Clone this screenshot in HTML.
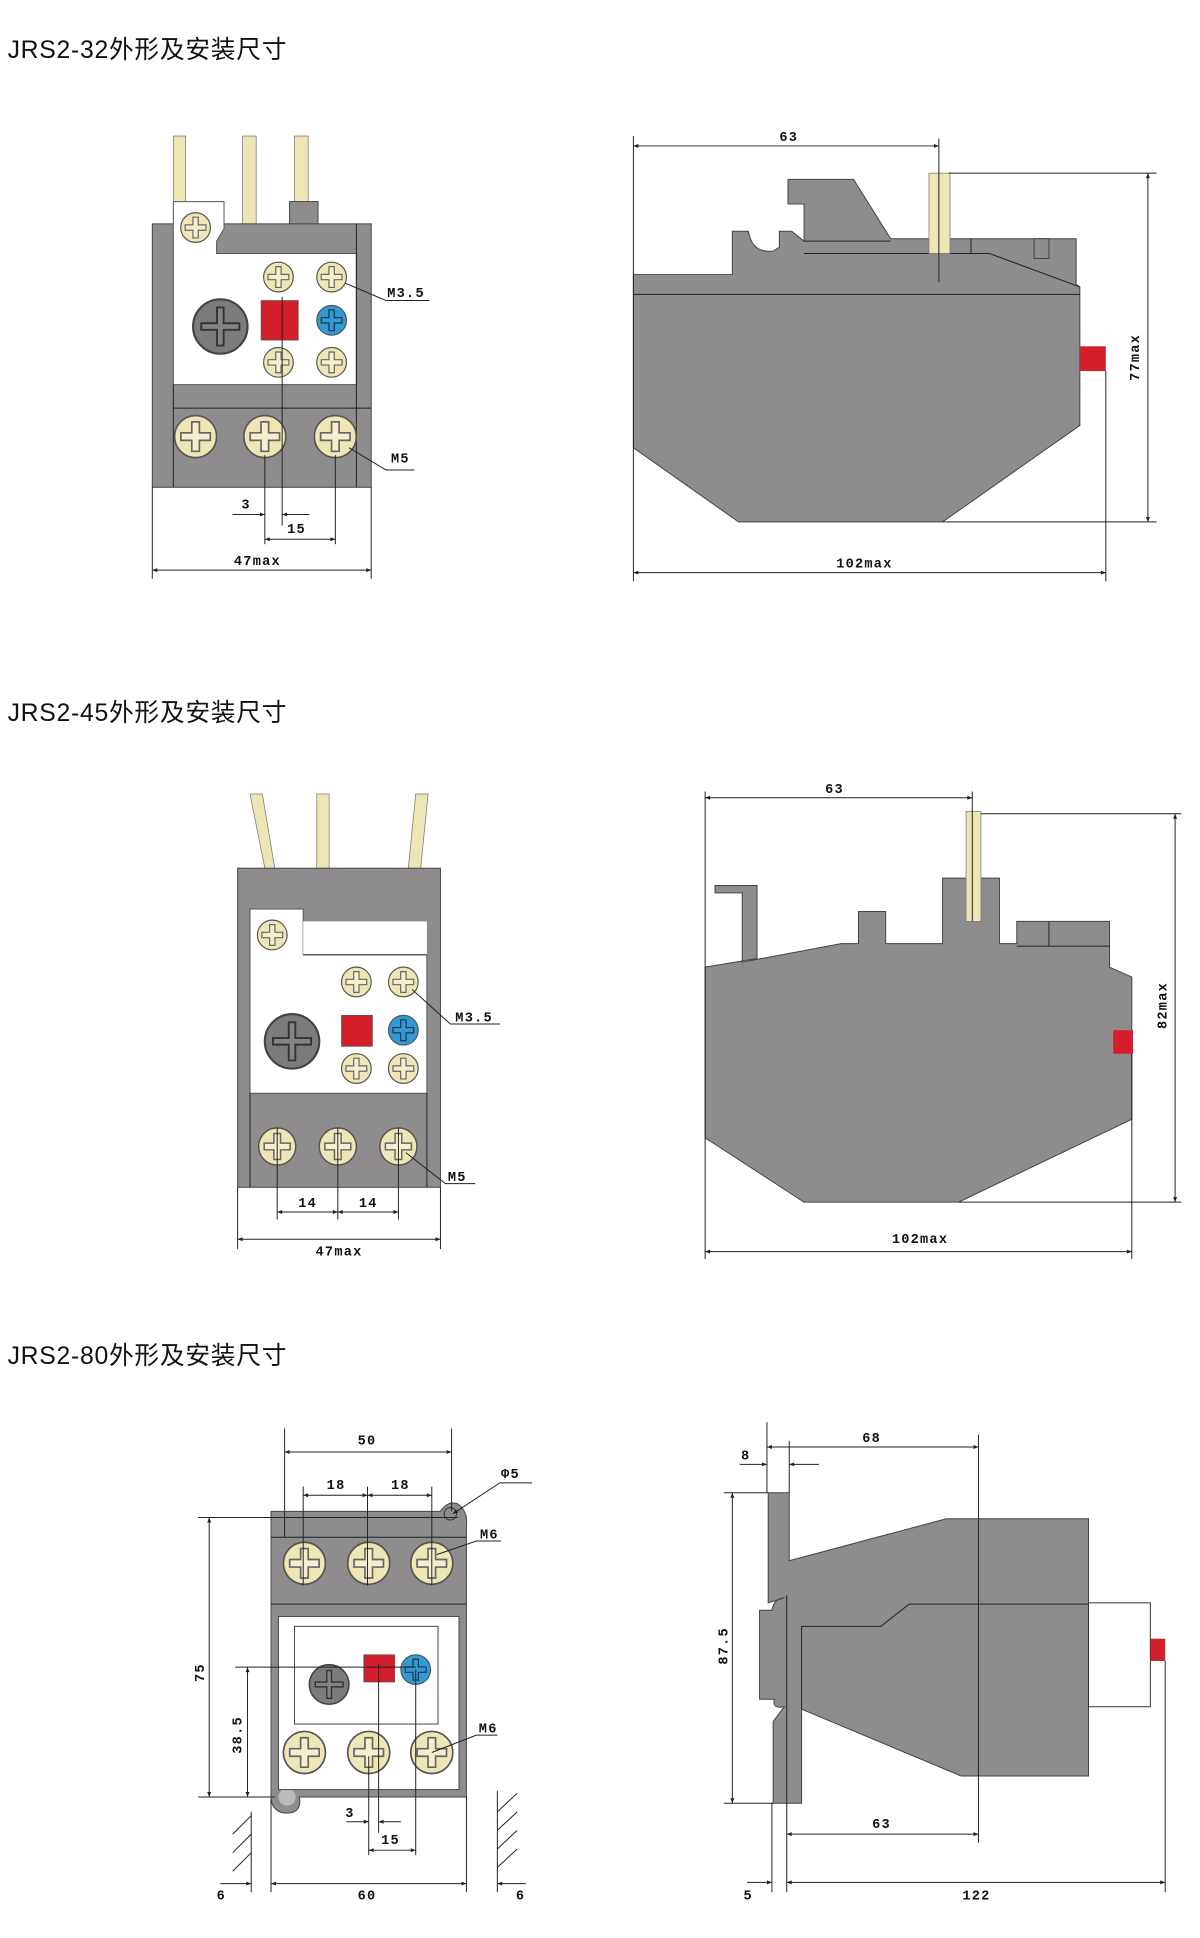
<!DOCTYPE html>
<html><head><meta charset="utf-8"><style>
html,body{margin:0;padding:0;background:#fff;}
svg{display:block;}
text{font-family:"Liberation Sans","Noto Sans CJK SC",sans-serif;}
.d{font-family:"Liberation Mono","DejaVu Sans Mono",monospace;font-size:11px;font-weight:bold;fill:#111;letter-spacing:1px;}
.t{font-size:20px;fill:#111;letter-spacing:0.6px;}
.l{stroke:#222;stroke-width:0.8;fill:none;}
.g{fill:#8e8c8d;stroke:#444;stroke-width:0.8;}
</style></head><body>
<svg width="1200" height="1938" viewBox="0 0 970 1567" xmlns="http://www.w3.org/2000/svg">
<defs>
<marker id="a" viewBox="0 0 10 10" refX="10" refY="5" markerWidth="7" markerHeight="5" orient="auto-start-reverse"><path d="M0,1 L10,5 L0,9 z" fill="#222"/></marker>
<g id="s"><circle r="10" fill="#efe6b5" stroke="#555" stroke-width="0.8"/><path d="M-1.8,-7 h3.6 v5.2 h5.2 v3.6 h-5.2 v5.2 h-3.6 v-5.2 h-5.2 v-3.6 h5.2 z" fill="#f6efcc" stroke="#666" stroke-width="0.8"/></g>
<g id="bs"><circle r="10" fill="#2e9ad6" stroke="#555" stroke-width="0.8"/><path d="M-1.8,-7 h3.6 v5.2 h5.2 v3.6 h-5.2 v5.2 h-3.6 v-5.2 h-5.2 v-3.6 h5.2 z" fill="#2e9ad6" stroke="#234" stroke-width="0.8"/></g>
<g id="ds"><circle r="10" fill="#7d7b7c" stroke="#444" stroke-width="0.8"/><path d="M-1.2,-7 h2.4 v5.8 h5.8 v2.4 h-5.8 v5.8 h-2.4 v-5.8 h-5.8 v-2.4 h5.8 z" fill="#858384" stroke="#333" stroke-width="0.7"/></g>
</defs>

<!-- Titles -->
<text class="t" x="6" y="47">JRS2-32外形及安装尺寸</text>
<text class="t" x="6" y="583">JRS2-45外形及安装尺寸</text>
<text class="t" x="6" y="1103">JRS2-80外形及安装尺寸</text>

<!-- ===== Section 1 front ===== -->
<rect x="140" y="110" width="10" height="56" fill="#efe6b5" stroke="#777" stroke-width="0.6"/>
<rect x="196" y="110" width="11" height="72" fill="#efe6b5" stroke="#777" stroke-width="0.6"/>
<rect x="238" y="110" width="11" height="55" fill="#efe6b5" stroke="#777" stroke-width="0.6"/>
<rect x="234" y="163" width="23" height="19" class="g"/>
<rect x="123" y="181" width="177" height="213" class="g"/>
<path d="M140,163 L181,163 L181,185 L175,195 L175,205 L288,205 L288,311 L140,311 Z" fill="#fff" stroke="#555" stroke-width="0.8"/>
<line x1="140" y1="330" x2="300" y2="330" class="l"/>
<line x1="288" y1="181" x2="288" y2="394" class="l"/>
<line x1="140" y1="311" x2="140" y2="394" class="l"/>
<use href="#s" transform="translate(158,184) scale(1.2)"/>
<use href="#s" transform="translate(225,224) scale(1.2)"/>
<use href="#s" transform="translate(268,224) scale(1.2)"/>
<use href="#s" transform="translate(225,293) scale(1.2)"/>
<use href="#s" transform="translate(268,293) scale(1.2)"/>
<use href="#ds" transform="translate(178,264) scale(2.2)"/>
<rect x="211" y="243" width="30" height="32" fill="#d21f2b" stroke="#555" stroke-width="0.6"/>
<use href="#bs" transform="translate(268,259) scale(1.2)"/>
<use href="#s" transform="translate(158,353) scale(1.7)"/>
<use href="#s" transform="translate(214,353) scale(1.7)"/>
<use href="#s" transform="translate(271,353) scale(1.7)"/>
<line x1="214" y1="368" x2="214" y2="440" class="l"/>
<line x1="271" y1="368" x2="271" y2="440" class="l"/>
<line x1="228" y1="240" x2="228" y2="425" class="l"/>
<line x1="123" y1="394" x2="123" y2="468" class="l"/>
<line x1="300" y1="394" x2="300" y2="468" class="l"/>
<line x1="188" y1="416" x2="214" y2="416" class="l" marker-end="url(#a)"/>
<line x1="250" y1="416" x2="228" y2="416" class="l" marker-end="url(#a)"/>
<line x1="214" y1="436" x2="271" y2="436" class="l" marker-start="url(#a)" marker-end="url(#a)"/>
<line x1="123" y1="461" x2="300" y2="461" class="l" marker-start="url(#a)" marker-end="url(#a)"/>
<text class="d" x="195" y="411">3</text>
<text class="d" x="232" y="431">15</text>
<text class="d" x="189" y="457">47max</text>
<polyline points="279,229 312,243 347,243" class="l"/>
<text class="d" x="313" y="240">M3.5</text>
<polyline points="282,362 312,380 335,380" class="l"/>
<text class="d" x="316" y="374">M5</text>

<!-- ===== Section 1 side ===== -->
<path d="M512,222 L592,222 L592,187 L605,187 Q608,205 625,203 L630,200 L630,187 L640,187 L650,195 L650,165 L637,165 L637,145 L690,145 L720,193 L870,193 L870,230 L873,232 L873,344 L762,422 L597,422 L512,362 Z" class="g"/>
<line x1="512" y1="238" x2="873" y2="238" class="l"/>
<line x1="650" y1="195" x2="720" y2="195" class="l"/>
<line x1="650" y1="205" x2="800" y2="205" class="l"/>
<line x1="800" y1="205" x2="873" y2="232" class="l"/>
<line x1="785" y1="193" x2="785" y2="205" class="l"/>
<rect x="836" y="193" width="12" height="16" class="g"/>
<rect x="751" y="140" width="17" height="65" fill="#efe6b5" stroke="#777" stroke-width="0.6"/>
<rect x="873" y="280" width="21" height="20" fill="#d21f2b"/>
<line x1="512" y1="110" x2="512" y2="470" class="l"/>
<line x1="759" y1="112" x2="759" y2="228" class="l"/>
<line x1="512" y1="118" x2="759" y2="118" class="l" marker-start="url(#a)" marker-end="url(#a)"/>
<text class="d" x="630" y="114">63</text>
<line x1="767" y1="140" x2="935" y2="140" class="l"/>
<line x1="762" y1="422" x2="935" y2="422" class="l"/>
<line x1="928" y1="140" x2="928" y2="422" class="l" marker-start="url(#a)" marker-end="url(#a)"/>
<text class="d" transform="translate(921,308) rotate(-90)">77max</text>
<line x1="894" y1="300" x2="894" y2="470" class="l"/>
<line x1="512" y1="463" x2="894" y2="463" class="l" marker-start="url(#a)" marker-end="url(#a)"/>
<text class="d" x="676" y="459">102max</text>

<!-- ===== Section 2 front ===== -->
<path d="M202,642 L212,642 L222,702 L214,702 Z" fill="#efe6b5" stroke="#777" stroke-width="0.6"/>
<rect x="256" y="642" width="10" height="60" fill="#efe6b5" stroke="#777" stroke-width="0.6"/>
<path d="M336,642 L346,642 L340,702 L330,702 Z" fill="#efe6b5" stroke="#777" stroke-width="0.6"/>
<rect x="192" y="702" width="164" height="258" class="g"/>
<path d="M202,735 L245,735 L245,772 L345,772 L345,884 L202,884 Z" fill="#fff" stroke="#555" stroke-width="0.8"/>
<rect x="245" y="745" width="100" height="27" fill="#fff"/>
<line x1="245" y1="772" x2="345" y2="772" class="l"/>
<line x1="202" y1="960" x2="202" y2="884" class="l"/>
<line x1="345" y1="960" x2="345" y2="884" class="l"/>
<use href="#s" transform="translate(220,756) scale(1.2)"/>
<use href="#s" transform="translate(288,794) scale(1.2)"/>
<use href="#s" transform="translate(326,794) scale(1.2)"/>
<use href="#s" transform="translate(288,864) scale(1.2)"/>
<use href="#s" transform="translate(326,864) scale(1.2)"/>
<use href="#ds" transform="translate(236,842) scale(2.2)"/>
<rect x="276" y="821" width="25" height="25" fill="#d21f2b" stroke="#555" stroke-width="0.6"/>
<use href="#bs" transform="translate(326,833) scale(1.2)"/>
<use href="#s" transform="translate(224,927) scale(1.5)"/>
<use href="#s" transform="translate(273,927) scale(1.5)"/>
<use href="#s" transform="translate(322,927) scale(1.5)"/>
<line x1="224" y1="912" x2="224" y2="986" class="l"/>
<line x1="273" y1="912" x2="273" y2="986" class="l"/>
<line x1="322" y1="912" x2="322" y2="986" class="l"/>
<line x1="192" y1="960" x2="192" y2="1010" class="l"/>
<line x1="356" y1="960" x2="356" y2="1010" class="l"/>
<line x1="224" y1="980" x2="273" y2="980" class="l" marker-start="url(#a)" marker-end="url(#a)"/>
<line x1="273" y1="980" x2="322" y2="980" class="l" marker-start="url(#a)" marker-end="url(#a)"/>
<text class="d" x="241" y="976">14</text>
<text class="d" x="290" y="976">14</text>
<line x1="192" y1="1002" x2="356" y2="1002" class="l" marker-start="url(#a)" marker-end="url(#a)"/>
<text class="d" x="255" y="1015">47max</text>
<polyline points="333,800 364,828 404,828" class="l"/>
<text class="d" x="368" y="826">M3.5</text>
<polyline points="328,932 360,957 384,957" class="l"/>
<text class="d" x="362" y="955">M5</text>

<!-- ===== Section 2 side ===== -->
<path d="M570,782 L612,775 L612,716 L578,716 L578,722 L600,722 L600,778 L680,763 L694,763 L694,737 L716,737 L716,763 L762,763 L762,710 L808,710 L808,763 L822,763 L822,745 L897,745 L897,782 L915,790 L915,905 L775,972 L650,972 L570,920 Z" class="g"/>
<line x1="822" y1="765" x2="897" y2="765" class="l"/>
<line x1="848" y1="745" x2="848" y2="765" class="l"/>
<rect x="781" y="656" width="12" height="89" fill="#efe6b5" stroke="#777" stroke-width="0.6"/>
<line x1="786" y1="640" x2="786" y2="745" class="l"/>
<rect x="900" y="833" width="16" height="19" fill="#d21f2b"/>
<line x1="570" y1="640" x2="570" y2="1018" class="l"/>
<line x1="570" y1="645" x2="786" y2="645" class="l" marker-start="url(#a)" marker-end="url(#a)"/>
<text class="d" x="667" y="641">63</text>
<line x1="793" y1="658" x2="955" y2="658" class="l"/>
<line x1="775" y1="972" x2="955" y2="972" class="l"/>
<line x1="950" y1="658" x2="950" y2="972" class="l" marker-start="url(#a)" marker-end="url(#a)"/>
<text class="d" transform="translate(943,832) rotate(-90)">82max</text>
<line x1="915" y1="852" x2="915" y2="1018" class="l"/>
<line x1="570" y1="1012" x2="915" y2="1012" class="l" marker-start="url(#a)" marker-end="url(#a)"/>
<text class="d" x="721" y="1005">102max</text>

<!-- ===== Section 3 front ===== -->
<path d="M219,1222 L356,1222 Q362,1213 370,1216 Q378,1222 377,1232 L377,1453 L242,1453 Q244,1466 232,1466 Q221,1466 219,1455 Z" class="g"/>
<circle cx="364" cy="1224" r="5" fill="none" stroke="#333" stroke-width="0.8"/>
<circle cx="232" cy="1453" r="7" fill="#bbb"/>
<line x1="219" y1="1243" x2="377" y2="1243" class="l"/>
<line x1="219" y1="1297" x2="377" y2="1297" class="l"/>
<rect x="225" y="1307" width="146" height="140" fill="#fff" stroke="#444" stroke-width="0.8"/>
<rect x="238" y="1315" width="116" height="79" fill="#fff" stroke="#444" stroke-width="0.8"/>
<use href="#s" transform="translate(246,1264) scale(1.7)"/>
<use href="#s" transform="translate(298,1264) scale(1.7)"/>
<use href="#s" transform="translate(349,1264) scale(1.7)"/>
<use href="#ds" transform="translate(266,1362) scale(1.6)"/>
<rect x="294" y="1338" width="25" height="22" fill="#d21f2b" stroke="#555" stroke-width="0.6"/>
<use href="#bs" transform="translate(336,1350) scale(1.2)"/>
<use href="#s" transform="translate(246,1417) scale(1.7)"/>
<use href="#s" transform="translate(298,1417) scale(1.7)"/>
<use href="#s" transform="translate(349,1417) scale(1.7)"/>
<line x1="230" y1="1155" x2="230" y2="1243" class="l"/>
<line x1="365" y1="1155" x2="365" y2="1222" class="l"/>
<line x1="230" y1="1174" x2="365" y2="1174" class="l" marker-start="url(#a)" marker-end="url(#a)"/>
<text class="d" x="289" y="1168">50</text>
<line x1="245" y1="1202" x2="245" y2="1282" class="l"/>
<line x1="297" y1="1202" x2="297" y2="1282" class="l"/>
<line x1="349" y1="1202" x2="349" y2="1282" class="l"/>
<line x1="245" y1="1209" x2="297" y2="1209" class="l" marker-start="url(#a)" marker-end="url(#a)"/>
<line x1="297" y1="1209" x2="349" y2="1209" class="l" marker-start="url(#a)" marker-end="url(#a)"/>
<text class="d" x="264" y="1204">18</text>
<text class="d" x="316" y="1204">18</text>
<polyline points="430,1199 404,1199 366,1224" class="l" marker-end="url(#a)"/>
<text class="d" x="405" y="1195">Φ5</text>
<polyline points="353,1257 385,1246 405,1246" class="l"/>
<text class="d" x="388" y="1244">M6</text>
<polyline points="349,1417 385,1403 402,1403" class="l"/>
<text class="d" x="387" y="1401">M6</text>
<line x1="160" y1="1227" x2="370" y2="1227" class="l"/>
<line x1="160" y1="1453" x2="222" y2="1453" class="l"/>
<line x1="169" y1="1227" x2="169" y2="1453" class="l" marker-start="url(#a)" marker-end="url(#a)"/>
<text class="d" transform="translate(165,1360) rotate(-90)">75</text>
<line x1="190" y1="1348" x2="336" y2="1348" class="l"/>
<line x1="200" y1="1348" x2="200" y2="1453" class="l" marker-start="url(#a)" marker-end="url(#a)"/>
<text class="d" transform="translate(195,1418) rotate(-90)">38.5</text>
<line x1="298" y1="1420" x2="298" y2="1500" class="l"/>
<line x1="306" y1="1345" x2="306" y2="1482" class="l"/>
<line x1="336" y1="1350" x2="336" y2="1500" class="l"/>
<line x1="280" y1="1473" x2="298" y2="1473" class="l" marker-end="url(#a)"/>
<line x1="324" y1="1473" x2="306" y2="1473" class="l" marker-end="url(#a)"/>
<text class="d" x="279" y="1469">3</text>
<line x1="298" y1="1496" x2="336" y2="1496" class="l" marker-start="url(#a)" marker-end="url(#a)"/>
<text class="d" x="308" y="1491">15</text>
<line x1="219" y1="1455" x2="219" y2="1530" class="l"/>
<line x1="377" y1="1453" x2="377" y2="1530" class="l"/>
<line x1="219" y1="1523" x2="377" y2="1523" class="l" marker-start="url(#a)" marker-end="url(#a)"/>
<text class="d" x="289" y="1536">60</text>
<line x1="203" y1="1465" x2="203" y2="1530" class="l"/>
<line x1="178" y1="1523" x2="203" y2="1523" class="l" marker-end="url(#a)"/>
<text class="d" x="175" y="1536">6</text>
<path d="M188,1483 L203,1468 M188,1498 L203,1483 M188,1513 L203,1498" class="l"/>
<line x1="402" y1="1448" x2="402" y2="1530" class="l"/>
<line x1="425" y1="1523" x2="402" y2="1523" class="l" marker-end="url(#a)"/>
<text class="d" x="417" y="1536">6</text>
<path d="M402,1465 L418,1450 M402,1480 L418,1465 M402,1495 L418,1480 M402,1510 L418,1495" class="l"/>

<!-- ===== Section 3 side ===== -->
<path d="M621,1207 L638,1207 L638,1262 L765,1228 L880,1228 L880,1436 L777,1436 L648,1382 L648,1458 L625,1458 L625,1392 L634,1380 Q624,1382 626,1374 L614,1374 L614,1302 L624,1302 Q626,1292 634,1292 L621,1296 Z" class="g"/>
<polyline points="880,1297 735,1297 712,1315 648,1315 648,1382" class="l"/>
<line x1="636" y1="1290" x2="636" y2="1458" class="l"/>
<rect x="880" y="1296" width="50" height="84" fill="#fff" stroke="#333" stroke-width="0.8"/>
<rect x="930" y="1325" width="12" height="18" fill="#d21f2b"/>
<line x1="620" y1="1150" x2="620" y2="1207" class="l"/>
<line x1="638" y1="1165" x2="638" y2="1207" class="l"/>
<line x1="791" y1="1160" x2="791" y2="1490" class="l"/>
<line x1="620" y1="1170" x2="791" y2="1170" class="l" marker-start="url(#a)" marker-end="url(#a)"/>
<text class="d" x="697" y="1166">68</text>
<line x1="598" y1="1184" x2="620" y2="1184" class="l" marker-end="url(#a)"/>
<line x1="662" y1="1184" x2="638" y2="1184" class="l" marker-end="url(#a)"/>
<text class="d" x="599" y="1180">8</text>
<line x1="585" y1="1207" x2="621" y2="1207" class="l"/>
<line x1="585" y1="1458" x2="625" y2="1458" class="l"/>
<line x1="592" y1="1207" x2="592" y2="1458" class="l" marker-start="url(#a)" marker-end="url(#a)"/>
<text class="d" transform="translate(588,1346) rotate(-90)">87.5</text>
<line x1="636" y1="1483" x2="791" y2="1483" class="l" marker-start="url(#a)" marker-end="url(#a)"/>
<text class="d" x="705" y="1478">63</text>
<line x1="624" y1="1458" x2="624" y2="1530" class="l"/>
<line x1="636" y1="1458" x2="636" y2="1530" class="l"/>
<line x1="942" y1="1343" x2="942" y2="1530" class="l"/>
<line x1="604" y1="1522" x2="624" y2="1522" class="l" marker-end="url(#a)"/>
<text class="d" x="601" y="1536">5</text>
<line x1="636" y1="1522" x2="942" y2="1522" class="l" marker-start="url(#a)" marker-end="url(#a)"/>
<text class="d" x="778" y="1536">122</text>
</svg>
</body></html>
